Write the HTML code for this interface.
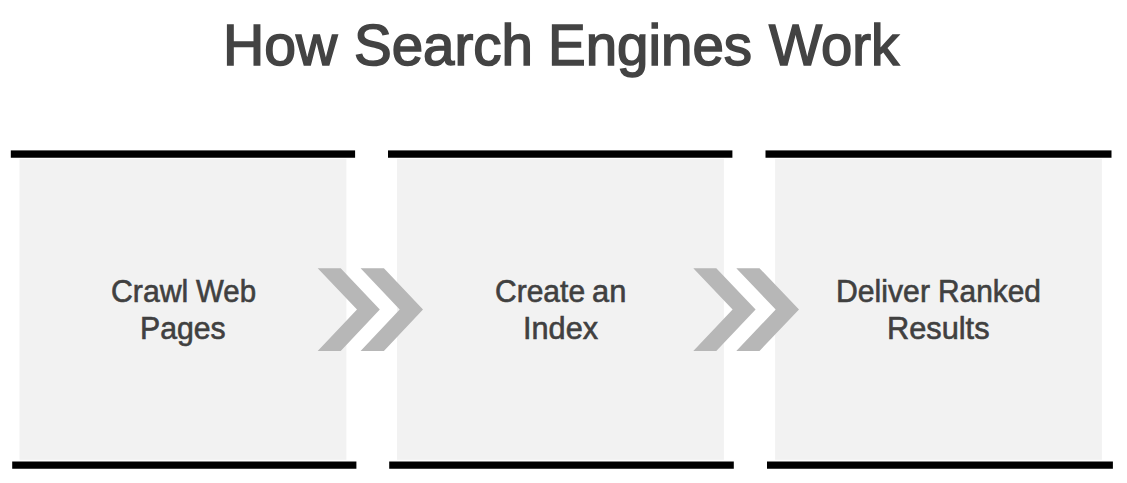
<!DOCTYPE html>
<html><head><meta charset="utf-8">
<style>
html,body{margin:0;padding:0;background:#fff;}
body{width:1127px;height:483px;position:relative;overflow:hidden;font-family:"Liberation Sans",sans-serif;}
.w{position:absolute;white-space:nowrap;transform-origin:0 0;}
svg{position:absolute;left:0;top:0;}
</style></head><body>
<svg width="1127" height="483" viewBox="0 0 1127 483">
<rect x="19.5" y="158.9" width="326.90" height="300.90" fill="#f2f2f2"/>
<rect x="397" y="158.9" width="326.90" height="300.90" fill="#f2f2f2"/>
<rect x="775.1" y="158.9" width="326.80" height="300.90" fill="#f2f2f2"/>
<rect x="10.8" y="150.4" width="344.30" height="7.35" fill="#000"/>
<rect x="388" y="150.4" width="344.40" height="7.35" fill="#000"/>
<rect x="765.5" y="150.4" width="346.00" height="7.35" fill="#000"/>
<rect x="12.2" y="461.5" width="344.20" height="7.25" fill="#000"/>
<rect x="389.2" y="461.5" width="344.60" height="7.25" fill="#000"/>
<rect x="767" y="461.5" width="345.90" height="7.25" fill="#000"/>
<g fill="#b7b7b7">
<polygon points="317.7,268.2 340.7,268.2 379.8,309.55 340.7,350.9 317.7,350.9 357,309.55"/>
<polygon points="360.6,268.2 383.9,268.2 423,309.55 383.9,350.9 360.6,350.9 399.7,309.55"/>
<polygon points="693.3,268.2 716.3,268.2 755.6,309.55 716.3,350.9 693.3,350.9 732.6,309.55"/>
<polygon points="736.3,268.2 759.5,268.2 799,309.55 759.5,350.9 736.3,350.9 775.7,309.55"/>
</g></svg>
<div class="w" style="left:223.10px;top:16.47px;font-size:58px;line-height:58px;-webkit-text-stroke:1.6px #434343;color:#434343;transform:scaleX(0.9849)">How</div>
<div class="w" style="left:354.17px;top:16.47px;font-size:58px;line-height:58px;-webkit-text-stroke:1.6px #434343;color:#434343;transform:scaleX(0.9738)">Search</div>
<div class="w" style="left:547.64px;top:16.47px;font-size:58px;line-height:58px;-webkit-text-stroke:1.6px #434343;color:#434343;transform:scaleX(0.9735)">Engines</div>
<div class="w" style="left:769.10px;top:16.47px;font-size:58px;line-height:58px;-webkit-text-stroke:1.6px #434343;color:#434343;transform:scaleX(0.9693)">Work</div>
<div class="w" style="left:110.53px;top:275.75px;font-size:31px;line-height:31px;-webkit-text-stroke:0.6px #404040;color:#404040;transform:scaleX(0.9751)">Crawl</div>
<div class="w" style="left:195.82px;top:275.75px;font-size:31px;line-height:31px;-webkit-text-stroke:0.6px #404040;color:#404040;transform:scaleX(0.9504)">Web</div>
<div class="w" style="left:139.81px;top:312.65px;font-size:31px;line-height:31px;-webkit-text-stroke:0.6px #404040;color:#404040;transform:scaleX(0.9746)">Pages</div>
<div class="w" style="left:494.74px;top:275.75px;font-size:31px;line-height:31px;-webkit-text-stroke:0.6px #404040;color:#404040;transform:scaleX(0.9682)">Create</div>
<div class="w" style="left:592.40px;top:275.75px;font-size:31px;line-height:31px;-webkit-text-stroke:0.6px #404040;color:#404040;transform:scaleX(0.9943)">an</div>
<div class="w" style="left:522.58px;top:312.65px;font-size:31px;line-height:31px;-webkit-text-stroke:0.6px #404040;color:#404040;transform:scaleX(0.9895)">Index</div>
<div class="w" style="left:836.31px;top:275.75px;font-size:31px;line-height:31px;-webkit-text-stroke:0.6px #404040;color:#404040;transform:scaleX(0.9739)">Deliver</div>
<div class="w" style="left:938.04px;top:275.75px;font-size:31px;line-height:31px;-webkit-text-stroke:0.6px #404040;color:#404040;transform:scaleX(0.9635)">Ranked</div>
<div class="w" style="left:887.17px;top:312.65px;font-size:31px;line-height:31px;-webkit-text-stroke:0.6px #404040;color:#404040;transform:scaleX(0.9920)">Results</div>
</body></html>
